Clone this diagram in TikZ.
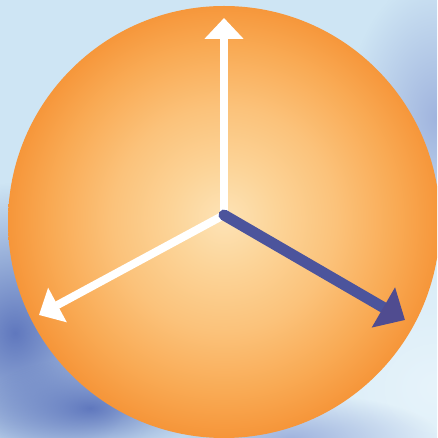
\documentclass[tikz,border=0pt]{standalone}
\usetikzlibrary{arrows.meta,fadings}
\definecolor{skyblue}{RGB}{206,229,244}
\definecolor{skypale}{RGB}{231,244,251}
\definecolor{mistblue}{RGB}{96,120,190}
\definecolor{hazeblue}{RGB}{160,180,222}
\definecolor{vecblue}{RGB}{76,84,156}
\definecolor{vechead}{RGB}{80,76,144}
\definecolor{ballcore}{RGB}{253,227,182}
\definecolor{balllight}{RGB}{252,212,152}
\definecolor{ballmid}{RGB}{251,194,122}
\definecolor{balldeep}{RGB}{249,170,84}
\definecolor{ballrim}{RGB}{246,150,58}
\pgfdeclareradialshading{ballshade}{\pgfpoint{0bp}{0.5bp}}{%
  color(0bp)=(ballcore); color(6bp)=(balllight); color(13bp)=(ballmid);
  color(20bp)=(balldeep); color(25bp)=(ballrim); color(50bp)=(ballrim)}
\tikzfading[name=haze, inner color=transparent!0, outer color=transparent!100]
\tikzset{
  axisw/.style={white,line width=8pt,-{Triangle[length=21pt,width=38pt]}},
  spinb/.style={vecblue,line width=11pt,line cap=round,
                -{Triangle[length=25pt,width=45pt,color=vechead]}},
  blob/.style={path fading=haze},
}
\begin{document}
\begin{tikzpicture}[x=1pt,y=1pt]
  \useasboundingbox (0,0) rectangle (437,438);
  \clip (0,0) rectangle (437,438);
  % ── sky behind the ball ──
  \fill[skyblue] (0,0) rectangle (437,438);
  \fill[skypale,blob]  (437,50)  ellipse (260pt and 220pt);
  \fill[mistblue,blob] (15,105)  ellipse (130pt and 150pt);
  \fill[mistblue,blob] (90,30)   ellipse (110pt and 50pt);
  \fill[hazeblue,blob] (437,320) ellipse (90pt and 140pt);
  \fill[hazeblue,blob] (290,0)   ellipse (150pt and 45pt);
  % ── the ball ──
  \shade[shading=ballshade] (224,216) circle (216pt);
  % ── three axes from the centre ──
  \coordinate (o)  at (224,223);
  \coordinate (up) at (224,420);
  \coordinate (lf) at (39,123);
  \coordinate (rt) at (405,118);
  \draw[axisw] (o) -- (up);
  \draw[axisw] (o) -- (lf);
  \draw[spinb] (o) -- (rt);
\end{tikzpicture}
\end{document}
